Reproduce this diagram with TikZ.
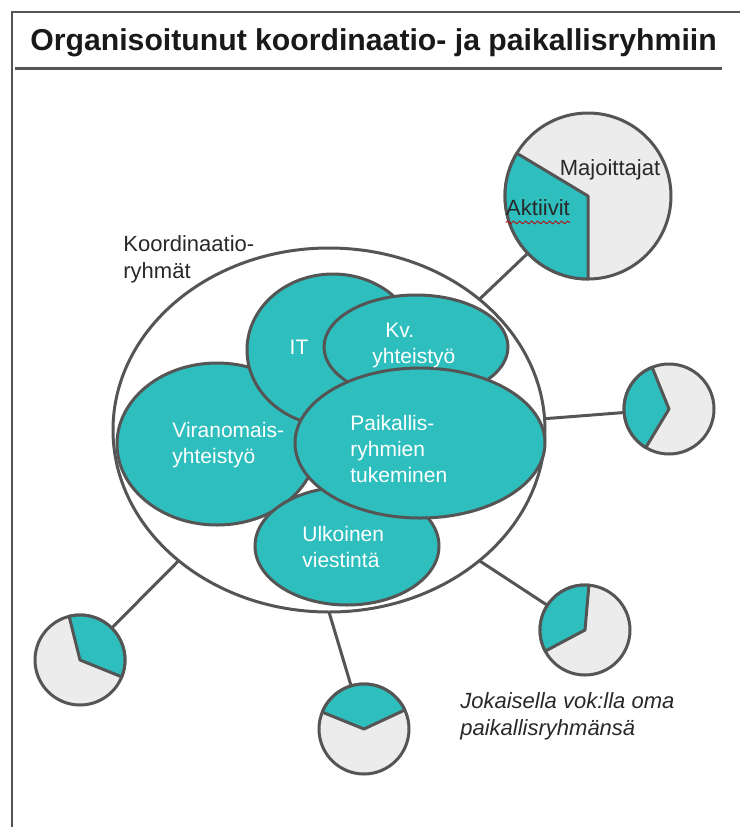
\documentclass[tikz,border=0pt]{standalone}
\usepackage{fontspec}
\setmainfont{Liberation Sans}
\usepackage{tikz}
\usetikzlibrary{shapes.geometric}
\usetikzlibrary{decorations.pathmorphing}
\definecolor{tealfill}{RGB}{46,190,190}
\definecolor{edgegray}{RGB}{85,85,85}
\definecolor{piegray}{RGB}{236,236,236}
\definecolor{textgray}{RGB}{40,40,40}
\tikzset{
  outline/.style={draw=edgegray, line width=1.5pt},
  group/.style={ellipse, outline, fill=tealfill, inner sep=0pt, outer sep=0pt},
  grouplbl/.style={text=white, font=\fontsize{10.5}{13}\selectfont, align=left, inner sep=0pt, anchor=west},
  darklbl/.style={text=textgray, font=\fontsize{11}{13.5}\selectfont, align=left, inner sep=0pt},
  vok/.style={circle, outline, fill=piegray, inner sep=0pt, outer sep=0pt, minimum size=45pt},
  share/.style={fill=tealfill, draw=edgegray, line width=1.5pt, line join=round},
  link/.style={draw=edgegray, line width=1.5pt}
}

\begin{document}
\begin{tikzpicture}[x=0.5pt,y=0.5pt,yscale=-1,xscale=1]
\useasboundingbox (0,0) rectangle (740,827);
\draw [edgegray, line width=1pt] (12,827) -- (12,12) -- (740,12);
\node [anchor=base west, inner sep=0pt, text=black!90, font=\bfseries\fontsize{15.1}{17}\selectfont] (title) at (30,50) {Organisoitunut koordinaatio- ja paikallisryhmiin};
\draw [edgegray, line width=1.5pt] (15,68) -- (722,68);

\node [ellipse, outline, fill=white, inner sep=0pt, outer sep=0pt, minimum width=216pt, minimum height=182pt] (koord) at (329,430) {};
\node [darklbl, anchor=west] (koordlbl) at (123,259) {Koordinaatio-\\ryhmät};

\node [group, minimum width=100pt, minimum height=81pt] (vira) at (217,444) {};
\node [group, minimum width=92pt, minimum height=59pt] (ulko) at (347,546) {};
\node [group, minimum width=86pt, minimum height=76pt] (it) at (333,350) {};
\node [group, minimum width=92pt, minimum height=52pt] (kv) at (416,347) {};
\node [group, minimum width=125pt, minimum height=75pt] (paik) at (420,443) {};

\node [grouplbl, anchor=center] (itlbl) at (299,347) {IT};
\node [grouplbl] (kvlbl) at (372,345) {\hspace*{6.5pt}Kv.\\yhteistyö};
\node [grouplbl] (viralbl) at (172,445) {Viranomais-\\yhteistyö};
\node [grouplbl] (paiklbl) at (350,449) {Paikallis-\\ryhmien\\tukeminen};
\node [grouplbl] (ulkolbl) at (302,547) {Ulkoinen\\viestintä};

\node [vok, minimum size=83pt] (vokA) at (588,196) {};
\node [vok] (vokB) at (669,409) {};
\node [vok] (vokC) at (585,630) {};
\node [vok] (vokD) at (364,729) {};
\node [vok] (vokE) at (80,660) {};

\draw [link] (vokA) -- (koord.41);
\draw [link] (vokB) -- (koord.3);
\draw [link] (vokC) -- (koord.-41);
\draw [link] (vokD) -- (koord.-90);
\draw [link] (vokE) -- (koord.221);

\draw [share] (vokA.center) -- (vokA.149) arc [start angle=-149, end angle=-270, radius=83] -- cycle;
\draw [share] (vokB.center) -- (vokB.112) arc [start angle=-112, end angle=-239, radius=45] -- cycle;
\draw [share] (vokC.center) -- (vokC.85) arc [start angle=-85, end angle=-208, radius=45] -- cycle;
\draw [share] (vokD.center) -- (vokD.25) arc [start angle=-25, end angle=-158, radius=45] -- cycle;
\draw [share] (vokE.center) -- (vokE.-22) arc [start angle=22, end angle=-104, radius=45] -- cycle;

\node [darklbl, anchor=center] (majlbl) at (610,170) {Majoittajat};
\node [darklbl, anchor=center] (aktlbl) at (538,208) {Aktiivit};
\draw [red!75!black, line width=0.4pt, decorate, decoration={snake, amplitude=0.7pt, segment length=3pt}] ([yshift=3pt]aktlbl.south west) -- ([yshift=3pt]aktlbl.south east);

\node [darklbl, anchor=west, font=\itshape\fontsize{11}{13.5}\selectfont] (notelbl) at (460,716) {Jokaisella vok:lla oma\\paikallisryhmänsä};
\end{tikzpicture}
\end{document}
